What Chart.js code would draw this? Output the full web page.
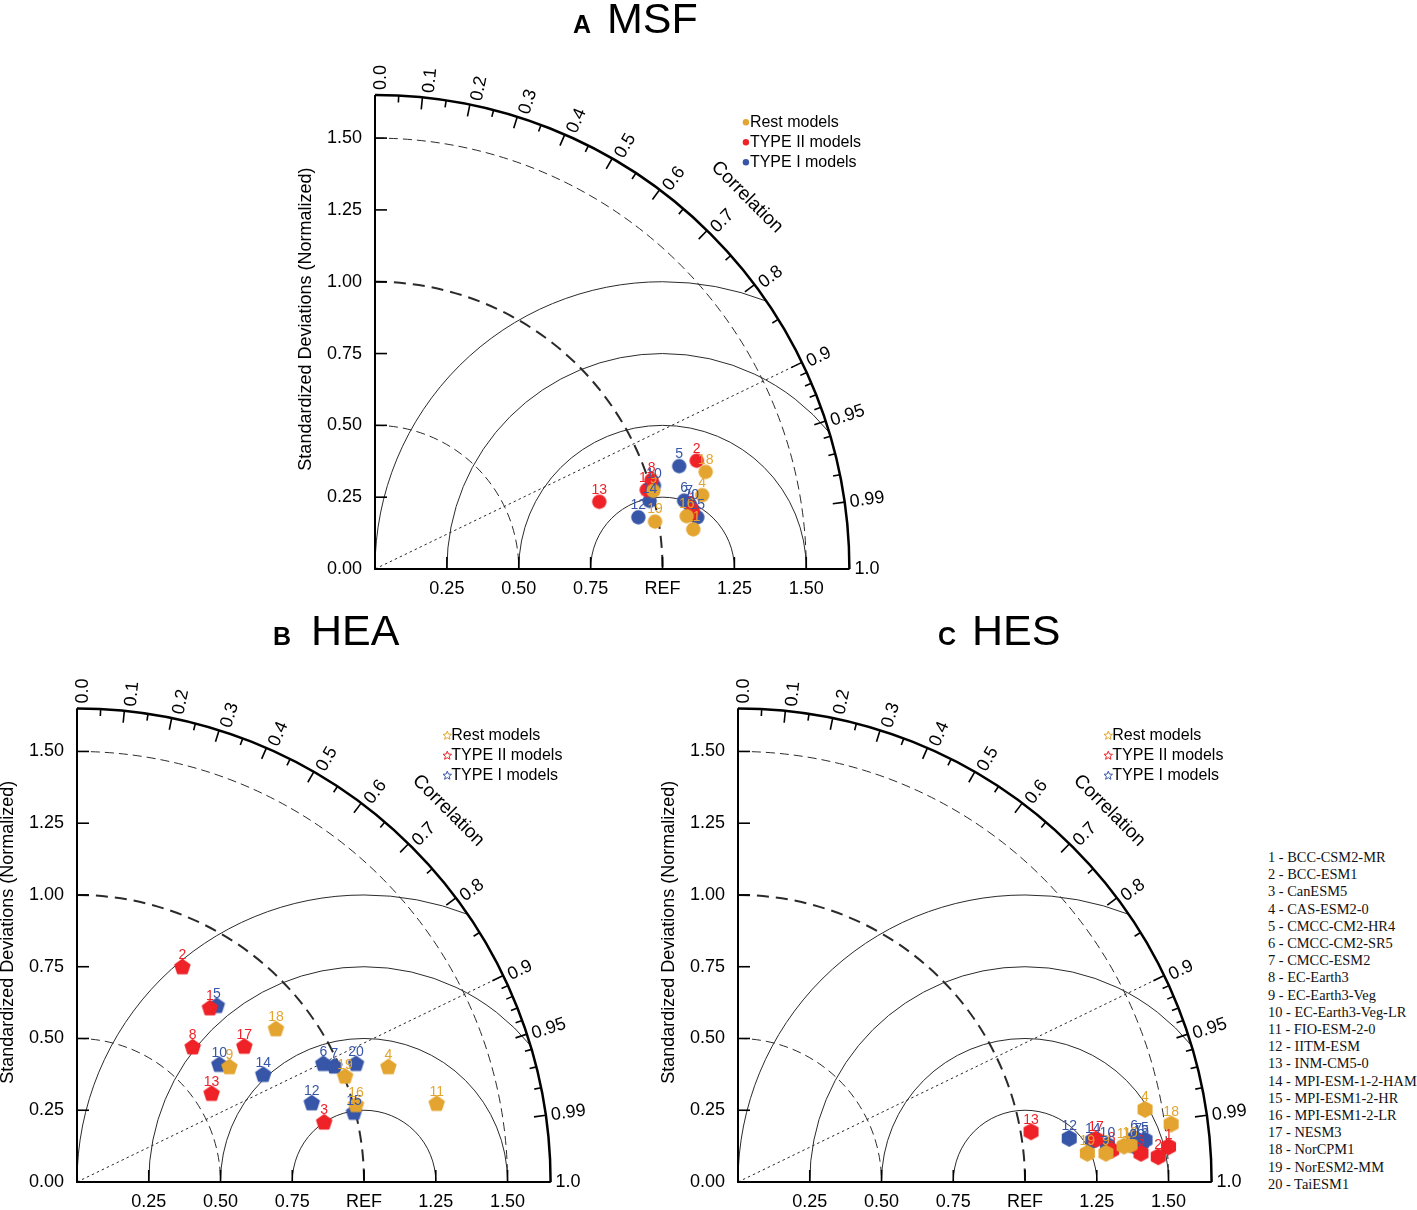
<!DOCTYPE html>
<html><head><meta charset="utf-8">
<script src="https://cdn.jsdelivr.net/npm/chart.js@4.4.1/dist/chart.umd.min.js"></script>
<style>
body{margin:0;width:1417px;height:1210px;background:#fff;position:relative;overflow:hidden;font-family:'Liberation Sans',Arial,sans-serif}
canvas{position:absolute}
.t{position:absolute;white-space:nowrap;color:#000;line-height:1}
#list{position:absolute;left:1268px;top:849px;font-family:'Liberation Serif','DejaVu Serif',serif;font-size:14.4px;line-height:17.2px;color:#111;white-space:nowrap}
</style></head><body>
<canvas id="cA" width="620" height="610" style="left:270px;top:0px"></canvas>
<canvas id="cB" width="620" height="610" style="left:0px;top:600px"></canvas>
<canvas id="cC" width="620" height="610" style="left:640px;top:600px"></canvas>
<div class="t" style="left:573px;top:12px;font-size:25px;font-weight:bold">A</div>
<div class="t" style="left:607px;top:-3px;font-size:43px">MSF</div>
<div class="t" style="left:273px;top:624px;font-size:25px;font-weight:bold">B</div>
<div class="t" style="left:311px;top:609px;font-size:43px">HEA</div>
<div class="t" style="left:938px;top:624px;font-size:25px;font-weight:bold">C</div>
<div class="t" style="left:972px;top:609px;font-size:43px">HES</div>
<div id="list"></div>
<script>
// ---------- data ----------
const modelNames = ['BCC-CSM2-MR','BCC-ESM1','CanESM5','CAS-ESM2-0','CMCC-CM2-HR4','CMCC-CM2-SR5','CMCC-ESM2','EC-Earth3','EC-Earth3-Veg','EC-Earth3-Veg-LR','FIO-ESM-2-0','IITM-ESM','INM-CM5-0','MPI-ESM-1-2-HAM','MPI-ESM1-2-HR','MPI-ESM1-2-LR','NESM3','NorCPM1','NorESM2-MM','TaiESM1'];
const groupNames = ['Rest models','TYPE II models','TYPE I models'];
const groupColors = ['#E3A530','#EE2227','#3756A8'];
// 0 = Rest, 1 = TYPE II, 2 = TYPE I
const modelGroup = [1,1,1,0,2,2,2,1,0,2,0,2,1,2,2,0,1,0,0,2];

const msfX = [1.105,1.119,1.100,1.138,1.058,1.075,1.093,0.962,0.968,0.970,1.107,0.916,0.780,0.955,1.121,1.084,0.945,1.150,0.974,1.100];
const msfY = [0.205,0.377,0.190,0.257,0.358,0.238,0.228,0.310,0.272,0.290,0.138,0.180,0.234,0.237,0.180,0.184,0.275,0.338,0.165,0.215];

const heaX = [0.463,0.367,0.861,1.085,0.487,0.858,0.897,0.403,0.531,0.496,1.253,0.818,0.469,0.649,0.965,0.972,0.583,0.693,0.934,0.972];
const heaY = [0.605,0.748,0.207,0.400,0.613,0.411,0.402,0.469,0.400,0.408,0.272,0.274,0.307,0.373,0.241,0.268,0.471,0.532,0.367,0.411];

const hesX = [1.500,1.464,1.404,1.418,1.418,1.380,1.395,1.302,1.282,1.287,1.345,1.154,1.021,1.236,1.405,1.366,1.247,1.509,1.217,1.390];
const hesY = [0.123,0.088,0.100,0.253,0.146,0.152,0.144,0.111,0.100,0.129,0.125,0.152,0.175,0.144,0.135,0.129,0.149,0.202,0.100,0.120];

const stdTicks = [0.25,0.50,0.75,1.00,1.25,1.50];
const yTickLabels = ['0.00','0.25','0.50','0.75','1.00','1.25','1.50'];
const yTickVals = [0,0.25,0.5,0.75,1.0,1.25,1.5];
const xTickLabels = ['0.25','0.50','0.75','REF','1.25','1.50'];
const corrMajor = [0.0,0.1,0.2,0.3,0.4,0.5,0.6,0.7,0.8,0.9,0.95,0.99,1.0];
const corrLabels = ['0.0','0.1','0.2','0.3','0.4','0.5','0.6','0.7','0.8','0.9','0.95','0.99','1.0'];
const corrMinor = [0.05,0.15,0.25,0.35,0.45,0.55,0.65,0.75,0.85,0.91,0.92,0.93,0.94,0.96,0.97,0.98];
const stdCircles = [0.5,1.0,1.5];
const rmsRadii = [0.25,0.5,0.75,1.0];
const refLineCorr = 0.9;
const R = 1.65;

document.getElementById('list').innerHTML = modelNames.map((n,i)=>(i+1)+' - '+n).join('<br>');

// ---------- marker images ----------
function markerImg(shape, color){
  const r = shape==='circle'?7.2:8.5;
  const s = Math.ceil(2*r+4), c = document.createElement('canvas');
  c.width = s; c.height = s;
  const g = c.getContext('2d');
  g.fillStyle = color; g.strokeStyle = color; g.lineJoin='round'; g.lineWidth = 2.2;
  const cx = s/2, cy = s/2;
  g.beginPath();
  if(shape==='circle'){ g.arc(cx,cy,r,0,Math.PI*2); }
  else {
    const n = shape==='pentagon'?5:6;
    const rr = r-1.1;
    for(let k=0;k<n;k++){
      const a = -Math.PI/2 + k*2*Math.PI/n;
      const px = cx+rr*Math.cos(a), py = cy+rr*Math.sin(a);
      k?g.lineTo(px,py):g.moveTo(px,py);
    }
    g.closePath();
  }
  g.fill(); if(shape!=='circle') g.stroke();
  return c;
}

function star(ctx,x,y,ro,ri){
  ctx.beginPath();
  for(let k=0;k<10;k++){
    const a=-Math.PI/2+k*Math.PI/5, r=k%2?ri:ro;
    const px=x+r*Math.cos(a), py=y+r*Math.sin(a);
    k?ctx.lineTo(px,py):ctx.moveTo(px,py);
  }
  ctx.closePath();
}

// ---------- Taylor plugin ----------
function taylorPlugin(cfg){
  return {
    id:'taylor',
    beforeDatasetsDraw(chart){
      const ctx = chart.ctx, xs = chart.scales.x, ys = chart.scales.y;
      const ox = xs.getPixelForValue(0), oy = ys.getPixelForValue(0);
      const kx = xs.getPixelForValue(1)-ox, ky = oy-ys.getPixelForValue(1);
      ctx.save();
      ctx.lineCap='butt';
      // RMS arcs centred on REF
      ctx.strokeStyle='#2a2a2a'; ctx.lineWidth=1; ctx.setLineDash([]);
      const rx0 = xs.getPixelForValue(1);
      rmsRadii.forEach(r=>{
        let a = 0;
        if(1+r>R){ const xi=(R*R-r*r+1)/2, yi=Math.sqrt(R*R-xi*xi); a=Math.atan2(yi,xi-1); }
        ctx.beginPath(); ctx.ellipse(rx0,oy,r*kx,r*ky,0,-Math.PI,-a,false); ctx.stroke();
      });
      // std circles
      stdCircles.forEach(s=>{
        ctx.beginPath();
        if(s===1.0){ ctx.lineWidth=2; ctx.setLineDash([12,7]); }
        else { ctx.lineWidth=1; ctx.setLineDash([9,5]); }
        ctx.ellipse(ox,oy,s*kx,s*ky,0,-Math.PI/2,0,false); ctx.stroke();
      });
      // dotted correlation line
      ctx.lineWidth=1; ctx.setLineDash([2.5,3]);
      const t0 = Math.acos(refLineCorr);
      ctx.beginPath(); ctx.moveTo(ox,oy); ctx.lineTo(ox+R*kx*Math.cos(t0), oy-R*ky*Math.sin(t0)); ctx.stroke();
      ctx.setLineDash([]);
      // outer arc
      ctx.strokeStyle='#000'; ctx.lineWidth=2.5;
      ctx.beginPath(); ctx.ellipse(ox,oy,R*kx,R*ky,0,-Math.PI/2,0,false); ctx.stroke();
      // axes
      ctx.lineWidth=2;
      ctx.beginPath(); ctx.moveTo(ox,oy-R*ky); ctx.lineTo(ox,oy); ctx.lineTo(ox+R*kx,oy); ctx.stroke();
      // axis ticks
      ctx.lineWidth=1.6;
      stdTicks.forEach(v=>{
        const py=ys.getPixelForValue(v), px=xs.getPixelForValue(v);
        ctx.beginPath(); ctx.moveTo(ox,py); ctx.lineTo(ox+12,py); ctx.stroke();
        ctx.beginPath(); ctx.moveTo(px,oy); ctx.lineTo(px,oy-12); ctx.stroke();
      });
      // correlation ticks
      const tick=(c,len)=>{
        const th=Math.acos(c), co=Math.cos(th), si=Math.sin(th);
        ctx.beginPath();
        ctx.moveTo(ox+R*kx*co, oy-R*ky*si);
        ctx.lineTo(ox+(R*kx-len)*co, oy-(R*ky-len)*si);
        ctx.stroke();
      };
      corrMajor.forEach(c=>tick(c,12));
      corrMinor.forEach(c=>tick(c,7));
      // text
      ctx.fillStyle='#000';
      ctx.font='18px "Liberation Sans", Arial, sans-serif';
      ctx.textAlign='right'; ctx.textBaseline='middle';
      yTickVals.forEach((v,i)=>ctx.fillText(yTickLabels[i], ox-13, ys.getPixelForValue(v)));
      ctx.textAlign='center';
      stdTicks.forEach((v,i)=>ctx.fillText(xTickLabels[i], xs.getPixelForValue(v), oy+20));
      corrMajor.forEach((c,i)=>{
        const th=Math.acos(c), co=Math.cos(th), si=Math.sin(th);
        const off=6*si;
        const px=ox+(R*kx+5)*co+off*si, py=oy-(R*ky+5)*si+off*co;
        ctx.save(); ctx.translate(px,py); ctx.rotate(-th);
        ctx.textAlign='left'; ctx.textBaseline='middle';
        ctx.fillText(corrLabels[i],0,0); ctx.restore();
      });
      // Correlation title
      ctx.save();
      const tt=Math.PI/4;
      ctx.translate(ox+1.83*kx*Math.cos(tt), oy-1.83*ky*Math.sin(tt));
      ctx.rotate(Math.PI/2-tt);
      ctx.font='19px "Liberation Sans", Arial, sans-serif';
      ctx.textAlign='center'; ctx.textBaseline='middle';
      ctx.fillText('Correlation',0,0); ctx.restore();
      // y axis title
      ctx.save();
      ctx.translate(ox-69, oy-0.87*ky); ctx.rotate(-Math.PI/2);
      ctx.font='18px "Liberation Sans", Arial, sans-serif';
      ctx.textAlign='center'; ctx.textBaseline='middle';
      ctx.fillText('Standardized Deviations (Normalized)',0,0); ctx.restore();
      // legend
      const lx=xs.getPixelForValue(1.29), ly=ys.getPixelForValue(1.555);
      ctx.font='16px "Liberation Sans", Arial, sans-serif';
      ctx.textAlign='left'; ctx.textBaseline='middle';
      groupNames.forEach((g,i)=>{
        const yy=ly+i*20;
        if(cfg.legend==='dot'){
          ctx.fillStyle=groupColors[i]; ctx.beginPath(); ctx.arc(lx,yy,3.2,0,Math.PI*2); ctx.fill();
        } else {
          ctx.strokeStyle=groupColors[i]; ctx.lineWidth=1; star(ctx,lx,yy,4.5,2); ctx.stroke();
        }
        ctx.fillStyle='#000'; ctx.fillText(g,lx+4,yy);
      });
      ctx.restore();
    },
    afterDatasetsDraw(chart){
      const ctx=chart.ctx, xs=chart.scales.x, ys=chart.scales.y;
      ctx.save();
      ctx.font='14px "Liberation Sans", Arial, sans-serif';
      ctx.textAlign='center'; ctx.textBaseline='middle';
      cfg.x.forEach((x,i)=>{
        ctx.fillStyle=groupColors[modelGroup[i]];
        ctx.fillText(String(i+1), xs.getPixelForValue(x), ys.getPixelForValue(cfg.y[i])-12);
      });
      ctx.restore();
    }
  };
}

function makePanel(id, X, Y, shape, padding, legend){
  const datasets = groupNames.map((g,gi)=>({
    label:g,
    data: X.map((x,i)=>({x:x, y:Y[i]})).filter((p,i)=>modelGroup[i]===gi),
    pointStyle: markerImg(shape, groupColors[gi]),
    pointRadius: 8, pointHoverRadius: 8,
    backgroundColor: groupColors[gi], borderColor: groupColors[gi],
    clip:false, showLine:false
  }));
  new Chart(document.getElementById(id), {
    type:'scatter',
    data:{datasets},
    options:{
      responsive:false, animation:false, events:[],
      layout:{padding},
      scales:{
        x:{type:'linear',min:0,max:R,display:false},
        y:{type:'linear',min:0,max:R,display:false}
      },
      plugins:{legend:{display:false},tooltip:{enabled:false}}
    },
    plugins:[taylorPlugin({x:X,y:Y,legend})]
  });
}

makePanel('cA', msfX, msfY, 'circle', {left:105,right:40.6,top:95,bottom:41}, 'dot');
makePanel('cB', heaX, heaY, 'pentagon', {left:77,right:69.4,top:108.4,bottom:28}, 'star');
makePanel('cC', hesX, hesY, 'hexagon', {left:98,right:48.4,top:108.4,bottom:28}, 'star');
</script>
</body></html>
